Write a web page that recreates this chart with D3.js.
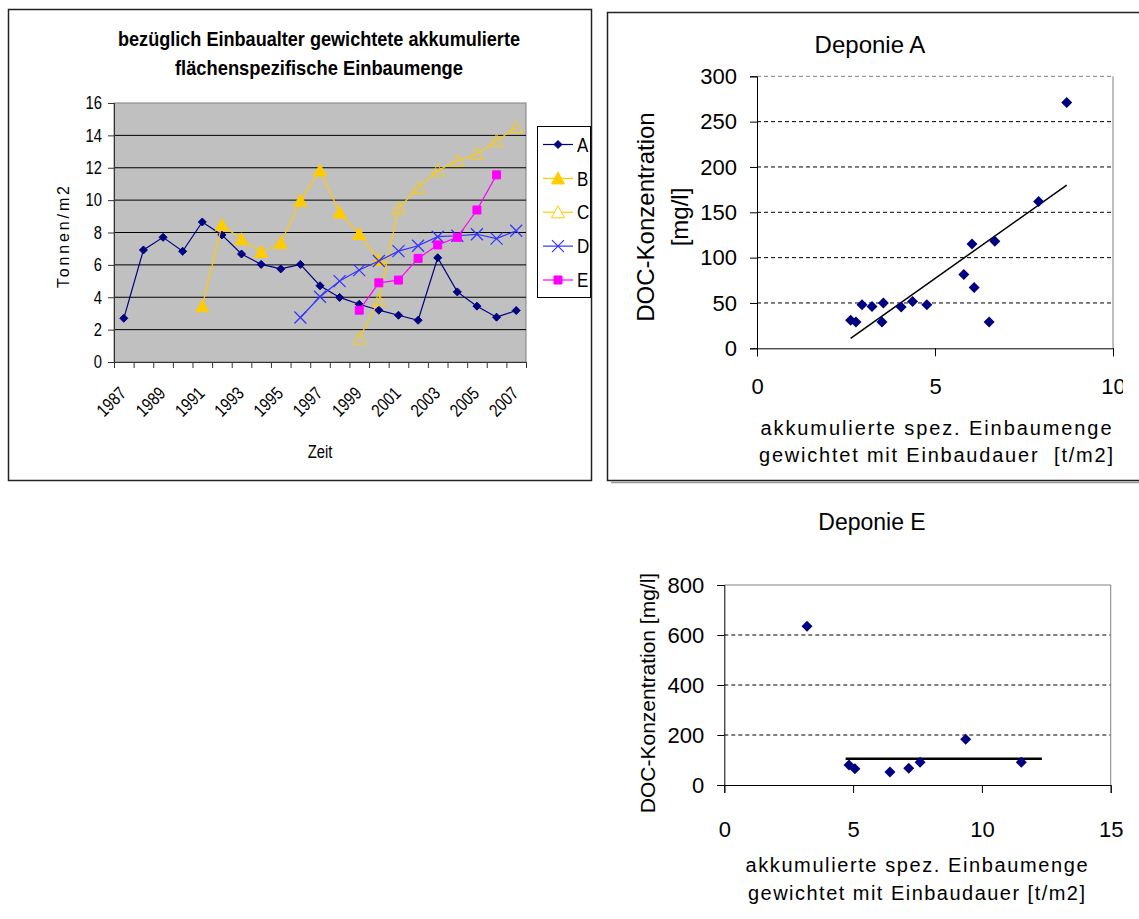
<!DOCTYPE html>
<html>
<head>
<meta charset="utf-8">
<script src="https://cdn.jsdelivr.net/npm/d3@7"></script>
<style>
body { margin: 0; background: #fff; }
svg { display: block; }
text { white-space: pre; }
</style>
</head>
<body>
<svg width="1139" height="919"></svg>
<script>
// ---- data ----
const years = [1987, 1988, 1989, 1990, 1991, 1992, 1993, 1994, 1995, 1996, 1997,
               1998, 1999, 2000, 2001, 2002, 2003, 2004, 2005, 2006, 2007];
const seriesNames = ["A", "B", "C", "D", "E"];
const valuesA = [2.7, 6.92, 7.7, 6.84, 8.65, 7.85, 6.67, 6.03, 5.75, 6.03, 4.71,
                 3.99, 3.57, 3.2, 2.89, 2.58, 6.44, 4.33, 3.45, 2.77, 3.18];
const valuesB = [null, null, null, null, 3.45, 8.46, 7.58, 6.8, 7.35, 9.97, 11.83,
                 9.23, 7.91, 6.3, null, null, null, null, null, null, null];
const valuesC = [null, null, null, null, null, null, null, null, null, null, null,
                 null, 1.45, 3.82, 9.5, 10.74, 11.83, 12.43, 12.86, 13.67, 14.49];
const valuesD = [null, null, null, null, null, null, null, null, null, 2.75, 4.03,
                 5.0, 5.68, 6.24, 6.85, 7.18, 7.74, 7.8, 7.89, 7.62, 8.11];
const valuesE = [null, null, null, null, null, null, null, null, null, null, null,
                 null, 3.2, 4.89, 5.06, 6.4, 7.23, 7.7, 9.39, 11.56, null];
const yTicksLeft = [0, 2, 4, 6, 8, 10, 12, 14, 16];

// Deponie A scatter
const depAx = [2.63, 2.78, 2.95, 3.23, 3.55, 3.51, 4.05, 4.37, 4.77, 5.81, 6.04, 6.10, 6.68, 6.52, 7.91, 8.70];
const depAy = [31, 29, 48, 46, 50, 29, 45.5, 51.5, 48, 81.5, 115, 67, 118, 29, 162, 271];
const trendAx = [2.63, 8.7];
const trendAy = [11, 180];
const yTicksA = [0, 50, 100, 150, 200, 250, 300];
const xTicksA = [0, 5, 10];

// Deponie E scatter
const depEx = [3.21, 4.84, 5.07, 6.43, 7.16, 7.6, 9.37, 11.53];
const depEy = [635, 80, 65, 52, 67, 91, 183, 91];
const trendEx = [4.71, 12.33];
const trendEy = [105, 105];
const yTicksE = [0, 200, 400, 600, 800];
const xTicksE = [0, 5, 10, 15];

const sans = "'Liberation Sans', Arial, sans-serif";

const svg = d3.select("svg");

// no Arial Narrow here: squeeze the glyphs instead
function condense(sel, f) {
  sel.each(function () {
    const w = this.getComputedTextLength();
    d3.select(this).attr("textLength", w * f).attr("lengthAdjust", "spacingAndGlyphs");
  });
}

function marker(type, r) {
  if (type === "diamond") return `M0,${-r}L${r},0L0,${r}L${-r},0Z`;
  if (type === "triangle") return `M0,${-r}L${r},${r * 0.85}L${-r},${r * 0.85}Z`;
  if (type === "square") return `M${-r},${-r}H${r}V${r}H${-r}Z`;
  if (type === "x") return `M${-r},${-r}L${r},${r}M${r},${-r}L${-r},${r}`;
  return "";
}

// =============== left chart: line chart ===============
const L = svg.append("g");
L.append("rect").attr("x", 8.5).attr("y", 9.5).attr("width", 583).attr("height", 471)
  .attr("fill", "#fff").attr("stroke", "#222").attr("stroke-width", 1.5);

L.append("text").attr("x", 319).attr("y", 46).attr("text-anchor", "middle")
  .attr("font-family", sans).attr("font-weight", "bold").attr("font-size", 21)
  .attr("textLength", 402).attr("lengthAdjust", "spacingAndGlyphs")
  .text("bezüglich Einbaualter gewichtete akkumulierte");
L.append("text").attr("x", 319).attr("y", 75).attr("text-anchor", "middle")
  .attr("font-family", sans).attr("font-weight", "bold").attr("font-size", 21)
  .attr("textLength", 288).attr("lengthAdjust", "spacingAndGlyphs")
  .text("flächenspezifische Einbaumenge");

const x = d3.scaleBand().domain(years).range([114, 526]);
const xEdge = d3.scaleLinear().domain([0, years.length]).range([114, 526]);
const y = d3.scaleLinear().domain([0, 16]).range([362, 103]);

L.append("rect").attr("x", 114).attr("y", 103).attr("width", 412).attr("height", 259)
  .attr("fill", "#c0c0c0").attr("stroke", "#808080");

L.append("g").selectAll("line").data(yTicksLeft.filter(d => d > 0 && d < 16)).join("line")
  .attr("x1", 114).attr("x2", 526).attr("y1", d => y(d)).attr("y2", d => y(d))
  .attr("stroke", "#000").attr("stroke-width", 1);

const yAxisL = L.append("g").attr("transform", "translate(114,0)")
  .call(d3.axisLeft(y).tickValues(yTicksLeft).tickSize(6).tickPadding(6));
yAxisL.selectAll("text").attr("font-family", sans).attr("font-size", 18).attr("fill", "#000")
  .call(condense, 0.82);
yAxisL.selectAll("line,path").attr("stroke", "#333");

const xAxisL = L.append("g").attr("transform", "translate(0,362)")
  .call(d3.axisBottom(xEdge).tickValues(d3.range(years.length + 1)).tickFormat("").tickSize(6));
xAxisL.selectAll("line,path").attr("stroke", "#333");

L.append("g").selectAll("text").data(years.filter((d, i) => i % 2 === 0)).join("text")
  .attr("transform", d => `translate(${x(d) + x.bandwidth() / 2 - 1},${390}) rotate(-45)`)
  .attr("text-anchor", "end").attr("dy", "0.35em")
  .attr("font-family", sans).attr("font-size", 18)
  .text(d => d)
  .call(condense, 0.82);

L.append("text").attr("x", 320).attr("y", 458).attr("text-anchor", "middle")
  .attr("font-family", sans).attr("font-size", 18).text("Zeit").call(condense, 0.82);

L.append("text").attr("transform", "translate(63,237) rotate(-90)")
  .attr("text-anchor", "middle").attr("dominant-baseline", "central")
  .attr("font-family", sans).attr("font-size", 16)
  .attr("textLength", 102).attr("lengthAdjust", "spacing").text("Tonnen/m2");

const series = [
  { name: "A", values: valuesA, color: "#000080", type: "diamond", r: 4, fill: "#000080" },
  { name: "B", values: valuesB, color: "#ffcc00", type: "triangle", r: 6.5, fill: "#ffcc00" },
  { name: "C", values: valuesC, color: "#ffcc00", type: "triangle", r: 6.5, fill: "none" },
  { name: "D", values: valuesD, color: "#3333ff", type: "x", r: 6, fill: "none" },
  { name: "E", values: valuesE, color: "#ff00ff", type: "square", r: 4, fill: "#ff00ff" }
];

const line = d3.line()
  .defined(d => d.v != null)
  .x(d => x(d.year) + x.bandwidth() / 2)
  .y(d => y(d.v));

series.forEach(s => {
  const pts = years.map((yr, i) => ({ year: yr, v: s.values[i] }));
  L.append("path").datum(pts).attr("d", line)
    .attr("fill", "none").attr("stroke", s.color).attr("stroke-width", 1.2);
  L.append("g").selectAll("path").data(pts.filter(d => d.v != null)).join("path")
    .attr("transform", d => `translate(${x(d.year) + x.bandwidth() / 2},${y(d.v)})`)
    .attr("d", marker(s.type, s.r))
    .attr("fill", s.fill).attr("stroke", s.color).attr("stroke-width", s.type === "x" ? 1.2 : 1);
});

// legend
const lg = L.append("g");
lg.append("rect").attr("x", 537.5).attr("y", 126.5).attr("width", 53).attr("height", 171)
  .attr("fill", "#fff").attr("stroke", "#000");
const legendY = d3.scalePoint().domain(seriesNames).range([144.5, 280]);
series.forEach(s => {
  const cy = legendY(s.name);
  lg.append("line").attr("x1", 543).attr("x2", 573).attr("y1", cy).attr("y2", cy)
    .attr("stroke", s.color).attr("stroke-width", 1.2);
  lg.append("path").attr("transform", `translate(558,${cy})`).attr("d", marker(s.type, s.r))
    .attr("fill", s.fill === "none" && s.type === "triangle" ? "#fff" : s.fill)
    .attr("stroke", s.color).attr("stroke-width", s.type === "x" ? 1.2 : 1);
  lg.append("text").attr("x", 577).attr("y", cy).attr("dy", "0.36em")
    .attr("font-family", sans).attr("font-size", 20).text(s.name).call(condense, 0.85);
});

// clip for the right-hand tick labels, the source image is cut there
svg.append("defs").append("clipPath").attr("id", "cutRight")
  .append("rect").attr("x", 600).attr("y", -100).attr("width", 523).attr("height", 300);

// =============== scatter helper ===============
function scatter(opts) {
  const g = svg.append("g");
  const sx = d3.scaleLinear().domain(opts.xDomain).range(opts.xRange);
  const sy = d3.scaleLinear().domain(opts.yDomain).range(opts.yRange);
  const [x0, x1] = opts.xRange, [y0, y1] = opts.yRange;

  // grid
  g.append("g").selectAll("line").data(opts.yTicks.filter(d => d > opts.yDomain[0])).join("line")
    .attr("x1", x0).attr("x2", x1).attr("y1", d => sy(d)).attr("y2", d => sy(d))
    .attr("stroke", d => d === opts.yDomain[1] ? "#808080" : "#000")
    .attr("stroke-dasharray", d => d === opts.yDomain[1] ? (opts.topDash ? "4,3" : null) : "4,3")
    .attr("stroke-width", 1);
  g.append("line").attr("x1", x1).attr("x2", x1).attr("y1", y0).attr("y2", y1).attr("stroke", "#808080");

  const ya = g.append("g").attr("transform", `translate(${x0},0)`)
    .call(d3.axisLeft(sy).tickValues(opts.yTicks).tickSize(7).tickPadding(13));
  ya.selectAll("text").attr("font-family", sans).attr("font-size", 22).attr("fill", "#000");
  ya.selectAll("line,path").attr("stroke", "#000");

  // x axis group is only shifted vertically, so the clip rect works in page x
  const xa = g.append("g").attr("transform", `translate(0,${y0})`)
    .attr("clip-path", "url(#cutRight)")
    .call(d3.axisBottom(sx).tickValues(opts.xTicks).tickSize(8).tickPadding(opts.xPad));
  xa.selectAll("text").attr("font-family", sans).attr("font-size", 22).attr("fill", "#000");
  xa.selectAll("line,path").attr("stroke", "#000");

  // trend line
  const tl = opts.trendX.map((v, i) => [v, opts.trendY[i]]);
  g.append("path").datum(tl)
    .attr("d", d3.line().x(d => sx(d[0])).y(d => sy(d[1])))
    .attr("stroke", "#000").attr("stroke-width", opts.trendWidth).attr("fill", "none");

  // points
  g.append("g").selectAll("path").data(opts.px.map((v, i) => [v, opts.py[i]])).join("path")
    .attr("transform", d => `translate(${sx(d[0])},${sy(d[1])})`)
    .attr("d", marker("diamond", 5.5)).attr("fill", "#000080");
  return g;
}

// =============== Deponie A ===============
svg.append("line").attr("x1", 611).attr("x2", 1139).attr("y1", 482.5).attr("y2", 482.5)
  .attr("stroke", "#999").attr("stroke-width", 1.5);
svg.append("rect").attr("x", 607.5).attr("y", 12.5).attr("width", 560).attr("height", 468)
  .attr("fill", "#fff").attr("stroke", "#222").attr("stroke-width", 1.5);

const gA = scatter({
  xDomain: [0, 10], xRange: [757, 1113], yDomain: [0, 300], yRange: [348.3, 76.3],
  yTicks: yTicksA, xTicks: xTicksA, xPad: 22, topDash: true,
  px: depAx, py: depAy, trendX: trendAx, trendY: trendAy, trendWidth: 1.5
});
gA.append("text").attr("x", 870).attr("y", 53).attr("text-anchor", "middle")
  .attr("font-family", sans).attr("font-size", 24).text("Deponie A");
const yTitleA = gA.append("g").attr("transform", "translate(645,217) rotate(-90)");
yTitleA.append("text").attr("text-anchor", "middle").attr("dominant-baseline", "central")
  .attr("font-family", sans).attr("font-size", 24).text("DOC-Konzentration");
yTitleA.append("text").attr("y", 34).attr("text-anchor", "middle").attr("dominant-baseline", "central")
  .attr("font-family", sans).attr("font-size", 24).text("[mg/l]");
gA.append("text").attr("x", 936).attr("y", 435).attr("text-anchor", "middle")
  .attr("font-family", sans).attr("font-size", 20)
  .attr("textLength", 351).attr("lengthAdjust", "spacing").text("akkumulierte spez. Einbaumenge");
gA.append("text").attr("x", 936).attr("y", 462).attr("text-anchor", "middle")
  .attr("font-family", sans).attr("font-size", 20)
  .attr("textLength", 354).attr("lengthAdjust", "spacing").text("gewichtet mit Einbaudauer  [t/m2]");

// =============== Deponie E ===============
const gE = scatter({
  xDomain: [0, 15], xRange: [724.3, 1110.7], yDomain: [0, 800], yRange: [785, 585],
  yTicks: yTicksE, xTicks: xTicksE, xPad: 28, topDash: false,
  px: depEx, py: depEy, trendX: trendEx, trendY: trendEy, trendWidth: 2.4
});
gE.append("text").attr("x", 872).attr("y", 530).attr("text-anchor", "middle")
  .attr("font-family", sans).attr("font-size", 23).text("Deponie E");
gE.append("text").attr("transform", "translate(647,693) rotate(-90)")
  .attr("text-anchor", "middle").attr("dominant-baseline", "central")
  .attr("font-family", sans).attr("font-size", 21).text("DOC-Konzentration [mg/l]");
gE.append("text").attr("x", 916.5).attr("y", 872).attr("text-anchor", "middle")
  .attr("font-family", sans).attr("font-size", 20)
  .attr("textLength", 342).attr("lengthAdjust", "spacing").text("akkumulierte spez. Einbaumenge");
gE.append("text").attr("x", 916.5).attr("y", 900).attr("text-anchor", "middle")
  .attr("font-family", sans).attr("font-size", 20)
  .attr("textLength", 337).attr("lengthAdjust", "spacing").text("gewichtet mit Einbaudauer [t/m2]");
</script>
</body>
</html>
